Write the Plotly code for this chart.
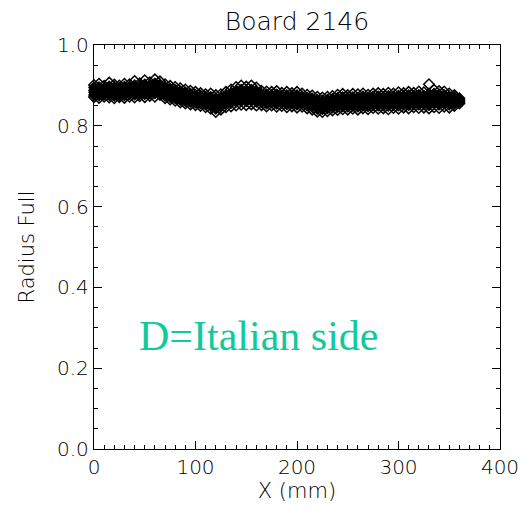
import plotly.graph_objects as go

# Position along the board (mm): one column of readings every 5 mm
x_mm = [0, 5, 10, 15, 20, 25, 30, 35, 40, 45, 50, 55, 60, 65, 70, 75, 80, 85, 90, 95,
        100, 105, 110, 115, 120, 125, 130, 135, 140, 145, 150, 155, 160, 165, 170, 175,
        180, 185, 190, 195, 200, 205, 210, 215, 220, 225, 230, 235, 240, 245, 250, 255,
        260, 265, 270, 275, 280, 285, 290, 295, 300, 305, 310, 315, 320, 325, 330, 335,
        340, 345, 350, 355, 360]

# Six radius readings per column
radius_1 = [.901, .904, .899, .907, .902, .900, .904, .903, .911, .905, .913, .908, .915, .910,
            .903, .899, .896, .893, .890, .887, .884, .881, .878, .880, .876, .878, .884, .890,
            .896, .900, .897, .900, .895, .887, .885, .884, .886, .882, .884, .881, .884, .880,
            .877, .875, .872, .870, .872, .874, .877, .879, .876, .879, .878, .880, .877, .880,
            .881, .879, .882, .880, .883, .881, .884, .882, .885, .883, .903, .889, .886, .885,
            .880, .876, .868]
radius_2 = [.895, .896, .893, .898, .896, .894, .897, .896, .901, .899, .903, .901, .905, .902,
            .896, .892, .889, .886, .883, .880, .877, .875, .872, .872, .868, .870, .876, .881,
            .887, .890, .888, .890, .886, .880, .878, .877, .878, .875, .876, .874, .876, .873,
            .870, .868, .865, .863, .865, .867, .869, .871, .869, .871, .870, .873, .870, .873,
            .873, .872, .874, .873, .875, .874, .876, .875, .877, .875, .880, .880, .878, .877,
            .873, .871, .865]
radius_3 = [.888, .890, .887, .892, .888, .889, .889, .890, .893, .891, .894, .893, .896, .894,
            .888, .885, .882, .879, .876, .873, .870, .868, .865, .864, .860, .862, .868, .872,
            .877, .880, .879, .881, .877, .873, .870, .870, .870, .869, .868, .868, .868, .867,
            .863, .861, .857, .856, .858, .860, .862, .864, .862, .864, .863, .865, .863, .866,
            .865, .865, .866, .866, .867, .867, .868, .868, .869, .868, .870, .872, .869, .870,
            .866, .865, .862]
radius_4 = [.883, .882, .882, .884, .881, .881, .883, .884, .886, .885, .887, .887, .889, .888,
            .881, .878, .875, .872, .869, .866, .864, .862, .859, .857, .851, .855, .861, .865,
            .868, .871, .869, .872, .868, .865, .863, .864, .862, .862, .861, .861, .860, .860,
            .857, .854, .850, .848, .850, .852, .854, .856, .854, .857, .855, .858, .855, .858,
            .858, .857, .857, .858, .858, .859, .859, .860, .860, .860, .860, .863, .861, .862,
            .859, .860, .860]
radius_5 = [.876, .875, .877, .876, .874, .876, .875, .878, .877, .878, .878, .880, .880, .882,
            .874, .871, .868, .864, .861, .859, .857, .855, .852, .849, .842, .847, .853, .856,
            .859, .861, .860, .862, .859, .858, .855, .857, .854, .856, .853, .855, .852, .854,
            .850, .847, .842, .841, .843, .845, .846, .848, .847, .849, .847, .850, .848, .851,
            .850, .850, .849, .851, .850, .852, .851, .853, .852, .853, .851, .855, .852, .855,
            .852, .854, .857]
radius_6 = [.871, .869, .872, .870, .868, .871, .869, .872, .870, .873, .871, .874, .872, .876,
            .868, .865, .862, .858, .855, .853, .851, .849, .846, .842, .834, .840, .846, .848,
            .850, .852, .851, .853, .850, .851, .848, .850, .847, .849, .846, .848, .845, .847,
            .843, .840, .835, .834, .836, .838, .839, .841, .840, .842, .840, .843, .841, .844,
            .842, .843, .841, .844, .842, .845, .843, .846, .844, .845, .843, .846, .844, .847,
            .845, .849, .855]

x_ticks = [0, 100, 200, 300, 400]
y_ticks = [0.0, 0.2, 0.4, 0.6, 0.8, 1.0]
y_tick_text = ["0.0", "0.2", "0.4", "0.6", "0.8", "1.0"]

fig = go.Figure()

# Inner readings overlap so densely that they merge into a solid band
for r in [radius_2, radius_3, radius_4, radius_5]:
    fig.add_trace(go.Scatter(
        x=x_mm, y=r, mode="markers",
        marker=dict(symbol="diamond", size=8, color="black",
                    line=dict(width=1.2, color="black")),
        cliponaxis=False, showlegend=False, hoverinfo="skip"))

# Outermost readings stay visible as open diamonds along the band edges
for r in [radius_1, radius_6]:
    fig.add_trace(go.Scatter(
        x=x_mm, y=r, mode="markers",
        marker=dict(symbol="diamond-open", size=8, color="black",
                    line=dict(width=1.5, color="black")),
        cliponaxis=False, showlegend=False, hoverinfo="skip"))

axis_font = dict(family="DejaVu Sans, sans-serif", size=20, color="black", weight=300)
label_font = dict(family="DejaVu Sans, sans-serif", size=21, color="black", weight=300)
title_font = dict(family="DejaVu Sans, sans-serif", size=25, color="black", weight=300)

fig.update_xaxes(
    range=[0, 400], tickvals=x_ticks, ticks="inside", ticklen=8, tickwidth=1,
    tickcolor="black", showline=True, linecolor="black", linewidth=1.3,
    mirror="ticks", showgrid=False, zeroline=False, tickfont=axis_font,
    minor=dict(dtick=10, ticks="inside", ticklen=4, tickcolor="black", showgrid=False),
    title=dict(text="X (mm)", font=label_font, standoff=1))
fig.update_yaxes(
    range=[0, 1.0], tickvals=y_ticks, ticktext=y_tick_text, ticks="inside", ticklen=8,
    tickwidth=1, tickcolor="black", showline=True, linecolor="black", linewidth=1.3,
    mirror="ticks", showgrid=False, zeroline=False, tickfont=axis_font,
    minor=dict(dtick=0.05, ticks="inside", ticklen=4, tickcolor="black", showgrid=False),
    title=dict(text="Radius Full", font=label_font, standoff=16))

fig.add_annotation(
    x=42, y=0.28, xref="x", yref="y", text="D=Italian side", showarrow=False,
    xanchor="left", yanchor="middle",
    font=dict(family="Liberation Serif, Times New Roman, serif", size=42, color="#12C99A"))

fig.update_layout(
    width=530, height=514,
    margin=dict(l=94, r=30, t=45, b=65),
    paper_bgcolor="white", plot_bgcolor="white",
    title=dict(text="Board 2146", x=0.5, xanchor="center", xref="paper",
               y=1 - 21 / 514, yanchor="middle", font=title_font),
)

fig.write_html("out.html")
